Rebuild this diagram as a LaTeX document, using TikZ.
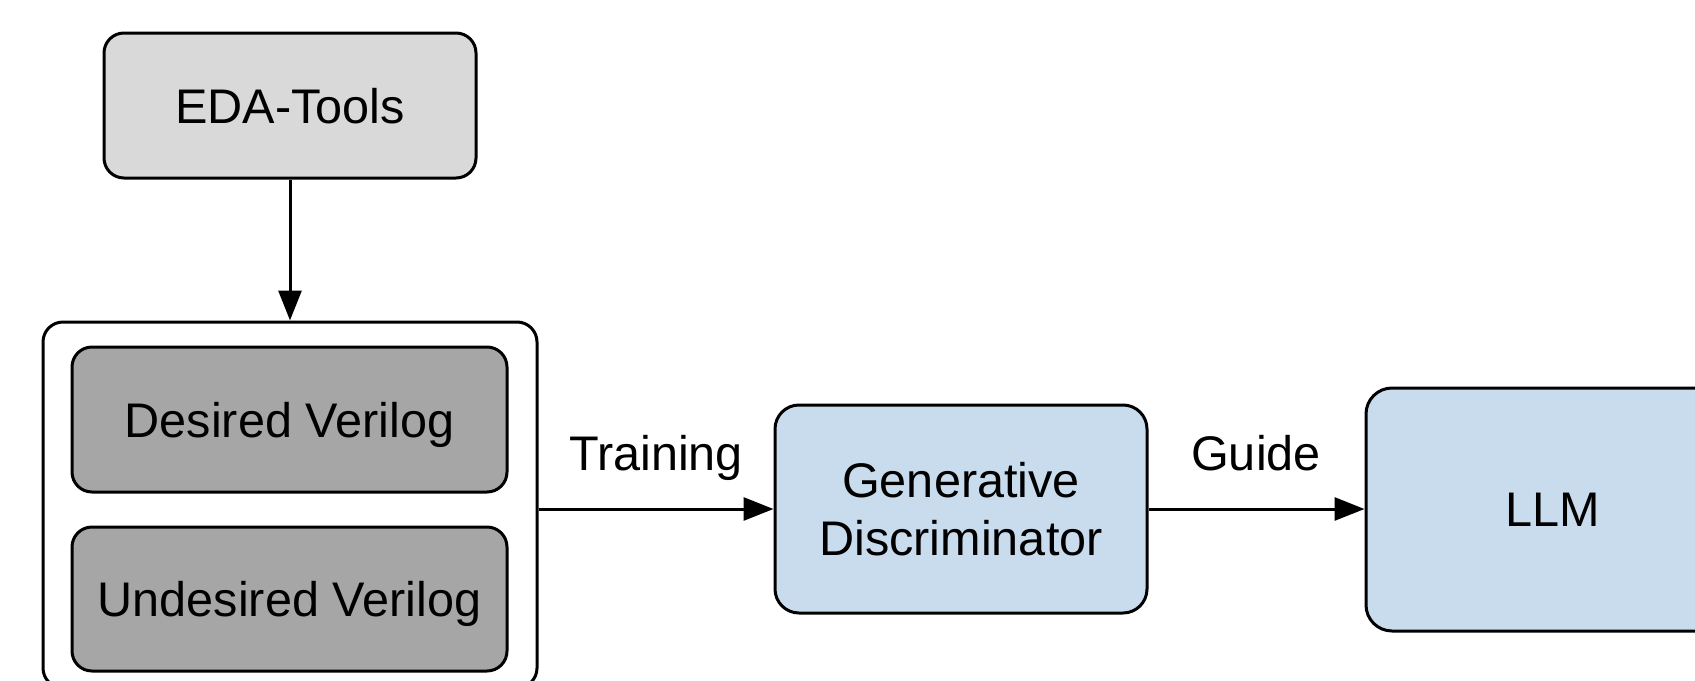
\documentclass[tikz,border=0pt]{standalone}
\usepackage{fontspec}
\setmainfont{Liberation Sans}
\usetikzlibrary{arrows.meta}
\definecolor{edagray}{HTML}{D9D9D9}
\definecolor{vgray}{HTML}{A6A6A6}
\definecolor{lblue}{HTML}{C9DCED}
\begin{document}
\begin{tikzpicture}[x=0.5pt,y=-0.5pt,
  box/.style={draw, line width=1.5pt, rounded corners=10pt, inner sep=0pt,
    font=\fontsize{24.3pt}{29pt}\selectfont, align=center},
  oneline/.style={text depth=0pt},
  arr/.style={-{Triangle[length=15pt,width=11.5pt]}, line width=1.5pt},
  lbl/.style={font=\fontsize{24.3pt}{29pt}\selectfont, anchor=base}]
\useasboundingbox (0,0) rectangle (1695,680);
\clip (0,0) rectangle (1695,680);
\node[box, oneline, fill=edagray, minimum width=186pt, minimum height=72.5pt] (eda) at (290,105.5) {EDA-Tools};
\node[box, minimum width=247pt, minimum height=183pt] (outer) at (290,505) {};
\node[box, oneline, fill=vgray, minimum width=217.5pt, minimum height=72.5pt] (des) at (289.5,419.5) {Desired Verilog};
\node[box, oneline, fill=vgray, minimum width=217.5pt, minimum height=72pt] (und) at (289.5,599) {Undesired Verilog};
\node[box, fill=lblue, rounded corners=12pt, minimum width=186pt, minimum height=104pt] (gen) at (961,509) {Generative\\Discriminator};
\node[box, oneline, fill=lblue, rounded corners=13pt, minimum width=187pt, minimum height=121.5pt] (llm) at (1553,509.5) {LLM};
\draw[arr] (eda.south) -- (outer.north);
\draw[arr] (outer.east |- gen.west) -- (gen.west);
\draw[arr] (gen.east) -- (llm.west |- gen.east);
\node[lbl] (train) at (656,470) {Training};
\node[lbl] (guide) at (1256,470) {Guide};
\end{tikzpicture}
\end{document}
